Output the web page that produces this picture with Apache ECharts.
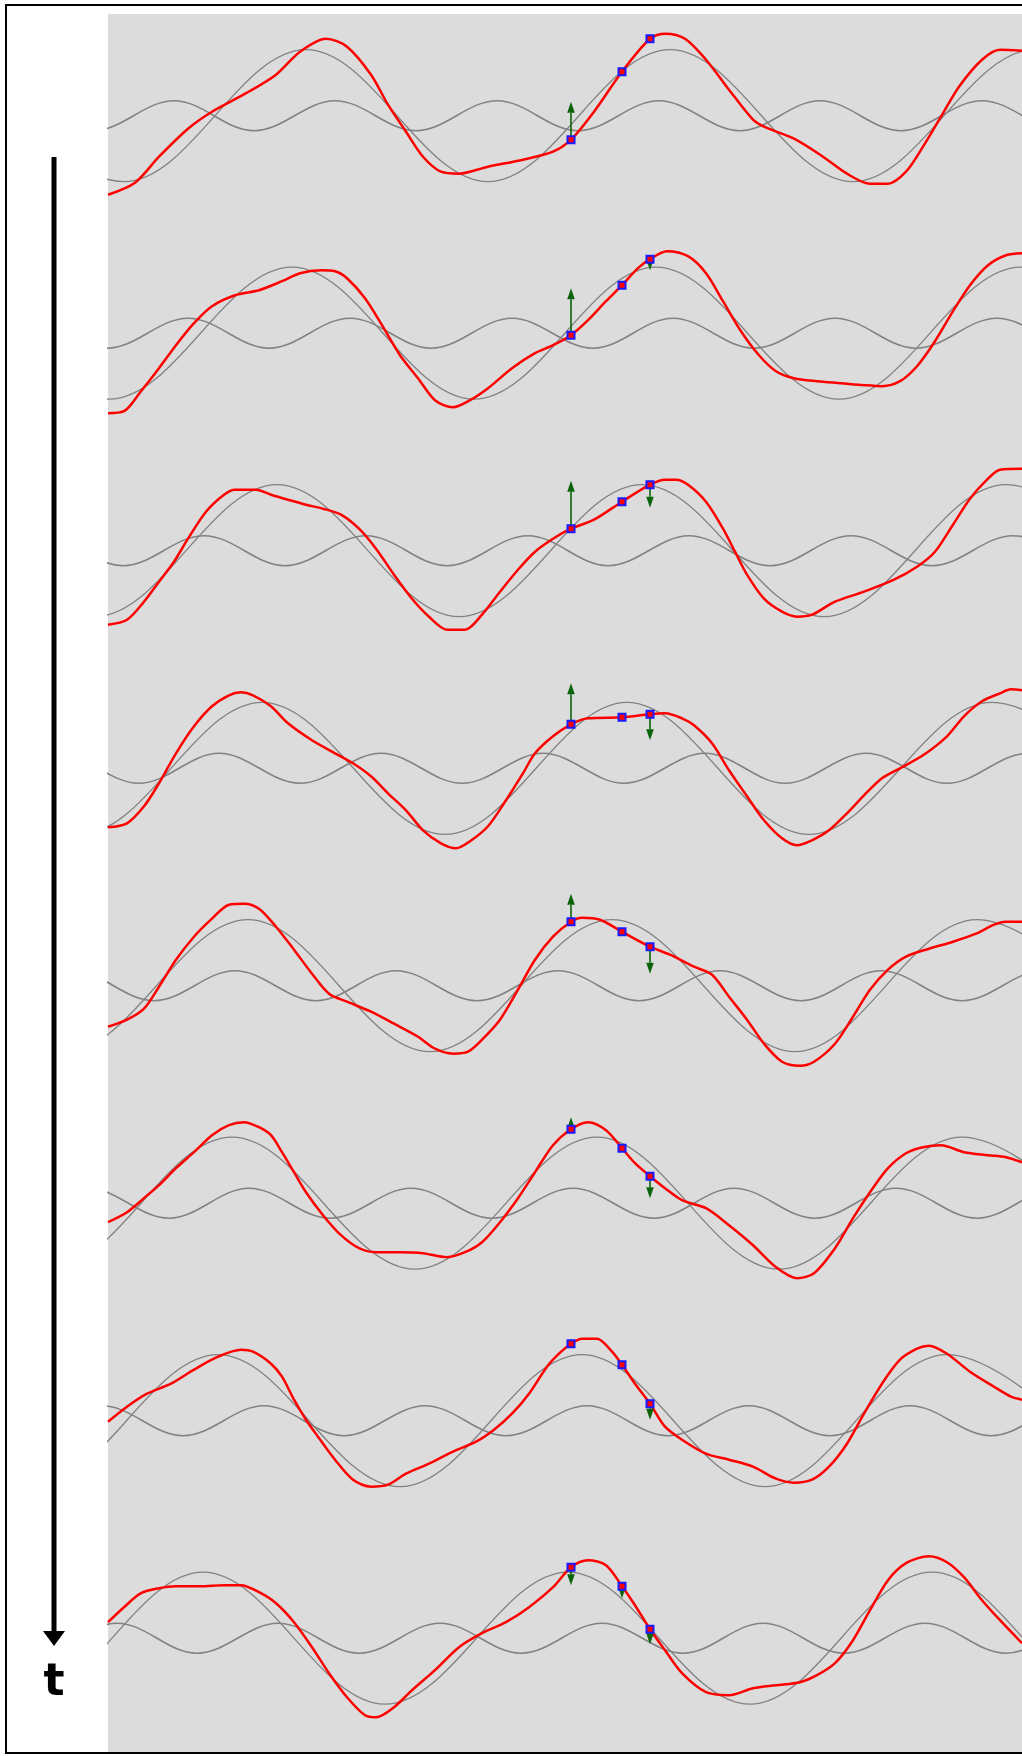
<!DOCTYPE html>
<html>
<head>
<meta charset="utf-8">
<title>Wave superposition</title>
<script src="https://cdn.jsdelivr.net/npm/echarts@6/dist/echarts.min.js"></script>
<style>
  html, body { margin: 0; padding: 0; background: #fff; }
  #chart { width: 1022px; height: 1756px; }
</style>
</head>
<body>
<div id="chart"></div>
<script>
// x: position along the medium (px from the left of the plot), y: displacement
// long gray wave, crests (+66) and troughs (-66) per frame
const bigWave1 = [[-167, 66], [16, -66], [198, 66], [380, -66], [562, 66], [745, -66], [927, 66], [1109, -66]];
const bigWave2 = [[-181, 66], [1, -66], [184, 66], [366, -66], [548, 66], [731, -66], [913, 66], [1095, -66]];
const bigWave3 = [[-196, 66], [-13, -66], [169, 66], [351, -66], [534, 66], [716, -66], [898, 66], [1081, -66]];
const bigWave4 = [[-210, 66], [-28, -66], [154, 66], [337, -66], [519, 66], [701, -66], [884, 66], [1066, -66]];
const bigWave5 = [[-225, 66], [-43, -66], [140, 66], [322, -66], [504, 66], [687, -66], [869, 66], [1051, -66]];
const bigWave6 = [[-240, 66], [-58, -66], [124, 66], [307, -66], [489, 66], [671, -66], [854, 66], [1036, -66]];
const bigWave7 = [[-255, 66], [-73, -66], [110, 66], [292, -66], [474, 66], [657, -66], [839, 66], [1021, -66]];
const bigWave8 = [[-270, 66], [-87, -66], [95, 66], [277, -66], [460, 66], [642, -66], [824, 66], [1006, -66], [1189, 66]];

// short gray wave, crests (+15) and troughs (-15) per frame
const smallWave1 = [[-177, -15], [-96, 15], [-15, -15], [66, 15], [146, -15], [227, 15], [308, -15], [389, 15], [470, -15], [551, 15], [632, -15], [712, 15], [793, -15], [874, 15], [955, -15], [1036, 15]];
const smallWave2 = [[-162, -15], [-82, 15], [-1, -15], [80, 15], [161, -15], [242, 15], [323, -15], [404, 15], [485, -15], [565, 15], [646, -15], [727, 15], [808, -15], [889, 15], [970, -15], [1050, 15]];
const smallWave3 = [[-147, -15], [-66, 15], [15, -15], [96, 15], [177, -15], [258, 15], [339, -15], [420, 15], [500, -15], [581, 15], [662, -15], [743, 15], [824, -15], [905, 15], [986, -15], [1066, 15]];
const smallWave4 = [[-131, -15], [-50, 15], [31, -15], [111, 15], [192, -15], [273, 15], [354, -15], [435, 15], [516, -15], [597, 15], [677, -15], [758, 15], [839, -15], [920, 15], [1001, -15], [1082, 15]];
const smallWave5 = [[-116, -15], [-35, 15], [46, -15], [127, 15], [208, -15], [288, 15], [369, -15], [450, 15], [531, -15], [612, 15], [693, -15], [773, 15], [854, -15], [935, 15], [1016, -15]];
const smallWave6 = [[-101, -15], [-20, 15], [61, -15], [141, 15], [222, -15], [303, 15], [384, -15], [465, 15], [546, -15], [626, 15], [707, -15], [788, 15], [869, -15], [950, 15], [1031, -15]];
const smallWave7 = [[-168, 15], [-87, -15], [-6, 15], [75, -15], [156, 15], [236, -15], [317, 15], [398, -15], [479, 15], [560, -15], [641, 15], [722, -15], [802, 15], [883, -15], [964, 15], [1045, -15]];
const smallWave8 = [[-153, 15], [-72, -15], [9, 15], [89, -15], [170, 15], [251, -15], [332, 15], [413, -15], [494, 15], [575, -15], [655, 15], [736, -15], [817, 15], [898, -15], [979, 15], [1060, -15]];

// red resulting wave
const red1 = [[0, -79], [27, -67], [51, -41], [80, -13], [104, 4], [139, 23], [168, 41], [192, 64], [218, 77], [239, 69], [263, 41], [280, 11], [298, -16], [315, -41], [333, -56], [351, -58], [380, -51], [415, -44], [445, -36], [463, -24], [486, 4], [514, 44], [542, 77], [557, 82], [577, 77], [598, 56], [621, 26], [645, -4], [656, -11], [686, -23], [715, -41], [739, -58], [762, -68], [780, -68], [798, -56], [815, -31], [833, -1], [851, 29], [874, 56], [892, 66], [914, 65]];
const red2 = [[0, -80], [16, -78], [33, -58], [51, -35], [68, -12], [86, 10], [104, 27], [127, 38], [151, 43], [174, 52], [192, 60], [213, 63], [227, 62], [239, 55], [257, 35], [274, 8], [292, -22], [310, -45], [327, -67], [345, -74], [362, -67], [380, -55], [404, -35], [427, -20], [445, -12], [463, -2], [480, 13], [498, 32], [514, 48], [530, 65], [542, 74], [559, 82], [580, 77], [598, 60], [615, 32], [633, 2], [651, -22], [668, -38], [686, -45], [709, -48], [733, -50], [756, -52], [774, -53], [792, -48], [809, -33], [827, -8], [845, 22], [862, 48], [880, 68], [898, 78], [914, 80]];
const red3 = [[0, -74], [19, -69], [36, -51], [51, -31], [66, -11], [80, 12], [98, 39], [116, 56], [127, 61], [148, 61], [163, 56], [180, 51], [198, 46], [215, 42], [233, 36], [251, 22], [268, 2], [286, -24], [304, -48], [321, -66], [339, -79], [357, -79], [374, -64], [392, -41], [410, -19], [427, -1], [445, 12], [463, 22], [486, 31], [514, 49], [542, 66], [557, 71], [568, 71], [580, 66], [598, 49], [615, 22], [627, -1], [639, -24], [656, -48], [674, -61], [689, -66], [704, -64], [727, -51], [756, -41], [786, -29], [809, -16], [827, -1], [845, 26], [862, 52], [880, 72], [892, 81], [914, 82]];
const red4 = [[0, -59], [19, -55], [36, -38], [51, -15], [68, 15], [86, 42], [104, 62], [121, 73], [133, 76], [145, 73], [163, 62], [180, 45], [204, 28], [227, 15], [245, 5], [263, -8], [280, -25], [298, -42], [315, -62], [333, -75], [348, -80], [362, -73], [380, -58], [398, -32], [415, -5], [427, 15], [445, 32], [463, 44], [480, 50], [514, 51], [542, 54], [557, 55], [574, 50], [586, 43], [604, 25], [621, -2], [639, -28], [656, -52], [674, -70], [689, -77], [704, -72], [721, -62], [739, -45], [756, -27], [774, -10], [792, 0], [815, 13], [839, 32], [856, 52], [874, 67], [892, 75], [903, 79], [914, 78]];
const red5 = [[0, -41], [19, -34], [36, -23], [51, -1], [68, 26], [86, 49], [104, 67], [121, 81], [136, 82], [151, 77], [168, 59], [186, 36], [204, 12], [221, -8], [239, -16], [263, -26], [286, -38], [310, -51], [327, -63], [345, -68], [360, -66], [374, -54], [392, -34], [410, -4], [427, 26], [445, 49], [463, 64], [474, 68], [492, 66], [514, 54], [542, 39], [562, 31], [586, 19], [604, 11], [621, -11], [639, -34], [656, -58], [674, -76], [692, -80], [706, -76], [727, -58], [745, -31], [762, -4], [780, 16], [798, 29], [821, 37], [845, 44], [868, 52], [886, 61], [898, 64], [914, 64]];
const red6 = [[0, -19], [19, -9], [36, 5], [51, 18], [68, 35], [86, 51], [104, 68], [121, 78], [136, 81], [151, 76], [163, 68], [174, 51], [186, 31], [198, 11], [215, -12], [233, -32], [251, -45], [268, -49], [292, -49], [315, -50], [339, -54], [357, -49], [374, -39], [392, -19], [410, 5], [427, 31], [445, 58], [463, 74], [480, 81], [498, 73], [514, 55], [527, 40], [542, 27], [557, 15], [574, 3], [598, -5], [621, -22], [645, -42], [668, -64], [689, -75], [706, -70], [727, -45], [745, -15], [762, 11], [780, 35], [798, 50], [815, 56], [833, 58], [856, 51], [880, 48], [898, 46], [914, 41]];
const red7 = [[0, -1], [19, 14], [39, 27], [63, 37], [86, 51], [110, 64], [133, 71], [145, 69], [163, 57], [174, 44], [186, 21], [198, 1], [210, -16], [227, -39], [245, -59], [263, -66], [280, -64], [298, -53], [321, -43], [345, -31], [368, -21], [386, -9], [404, 7], [421, 27], [439, 54], [451, 67], [463, 77], [474, 82], [489, 82], [504, 69], [514, 56], [527, 37], [542, 17], [557, -6], [574, -19], [598, -33], [621, -39], [645, -46], [668, -58], [686, -62], [704, -59], [721, -46], [739, -23], [756, 7], [774, 37], [792, 61], [809, 72], [821, 75], [839, 67], [862, 49], [886, 34], [903, 24], [914, 21]];
const red8 = [[0, 16], [16, 31], [33, 45], [51, 50], [68, 52], [92, 52], [116, 53], [133, 53], [151, 46], [168, 35], [186, 16], [204, -9], [221, -35], [239, -59], [257, -77], [268, -79], [286, -69], [304, -52], [327, -32], [351, -9], [374, 5], [398, 16], [421, 31], [445, 51], [463, 71], [480, 78], [498, 73], [514, 52], [527, 33], [542, 9], [557, -12], [574, -35], [598, -54], [621, -57], [645, -50], [668, -47], [692, -44], [709, -37], [727, -25], [745, -2], [762, 28], [780, 58], [798, 75], [821, 82], [839, 76], [856, 61], [874, 38], [892, 18], [914, -5]];

// tracked particles (blue squares)
const markers1 = [[463, -24], [514, 44], [542, 77]];
const markers2 = [[463, -2], [514, 48], [542, 74]];
const markers3 = [[463, 22], [514, 49], [542, 66]];
const markers4 = [[463, 44], [514, 51], [542, 54]];
const markers5 = [[463, 64], [514, 54], [542, 39]];
const markers6 = [[463, 74], [514, 55], [542, 27]];
const markers7 = [[463, 77], [514, 56], [542, 17]];
const markers8 = [[463, 71], [514, 52], [542, 9]];

// velocity arrows: [x, from, to]
const arrows1 = [[463, -24, 14]];
const arrows2 = [[463, -2, 45], [542, 74, 63]];
const arrows3 = [[463, 22, 70], [542, 66, 43]];
const arrows4 = [[463, 44, 85], [542, 54, 28]];
const arrows5 = [[463, 64, 92], [542, 39, 12]];
const arrows6 = [[463, 74, 86], [542, 27, 5]];
const arrows7 = [[542, 17, 1]];
const arrows8 = [[463, 71, 53], [514, 52, 40], [542, 9, -6]];

const bigWaves = [bigWave1, bigWave2, bigWave3, bigWave4, bigWave5, bigWave6, bigWave7, bigWave8];
const smallWaves = [smallWave1, smallWave2, smallWave3, smallWave4, smallWave5, smallWave6, smallWave7, smallWave8];
const redWaves = [red1, red2, red3, red4, red5, red6, red7, red8];
const markerRows = [markers1, markers2, markers3, markers4, markers5, markers6, markers7, markers8];
const arrowRows = [arrows1, arrows2, arrows3, arrows4, arrows5, arrows6, arrows7, arrows8];

// layout: vertical centre of each frame (px)
const rowCenters = [115.7, 333.2, 550.7, 768.3, 985.7, 1203.2, 1420.7, 1638.2];

const chart = echarts.init(document.getElementById("chart"));

const renderArrow = (params, api) => {
  const p0 = api.coord([api.value(0), api.value(1)]);
  const p1 = api.coord([api.value(0), api.value(2)]);
  const dir = p1[1] < p0[1] ? -1 : 1;
  const headLen = 11;
  const half = 3.8;
  const base = p1[1] - dir * headLen;
  return {
    type: "group",
    children: [
      {
        type: "line",
        shape: { x1: p0[0], y1: p0[1], x2: p1[0], y2: base },
        style: { stroke: "#0a640a", lineWidth: 1.6 },
      },
      {
        type: "polygon",
        shape: { points: [[p1[0], p1[1]], [p1[0] - half, base], [p1[0] + half, base]] },
        style: { fill: "#0a640a" },
      },
    ],
  };
};

const grid = [];
const xAxis = [];
const yAxis = [];
const series = [];

rowCenters.forEach((c, i) => {
  grid.push({ left: 108, top: c - 100, width: 914, height: 200 });
  xAxis.push({ gridIndex: i, type: "value", min: 0, max: 914, show: false });
  yAxis.push({ gridIndex: i, type: "value", min: -100, max: 100, show: false });

  series.push({
    type: "line",
    xAxisIndex: i,
    yAxisIndex: i,
    data: bigWaves[i],
    smooth: 0.36,
    symbol: "none",
    lineStyle: { color: "#828282", width: 1.3 },
    z: 2,
  });
  series.push({
    type: "line",
    xAxisIndex: i,
    yAxisIndex: i,
    data: smallWaves[i],
    smooth: 0.36,
    symbol: "none",
    lineStyle: { color: "#828282", width: 1.6 },
    z: 2,
  });
  series.push({
    type: "line",
    xAxisIndex: i,
    yAxisIndex: i,
    data: redWaves[i],
    smooth: 0.3,
    symbol: "none",
    lineStyle: { color: "#ff0000", width: 2.5 },
    z: 3,
  });
  series.push({
    type: "custom",
    xAxisIndex: i,
    yAxisIndex: i,
    data: arrowRows[i],
    renderItem: renderArrow,
    z: 4,
  });
  series.push({
    type: "scatter",
    xAxisIndex: i,
    yAxisIndex: i,
    data: markerRows[i],
    symbol: "rect",
    symbolSize: 7,
    itemStyle: { color: "#ff0000", borderColor: "#1a1aff", borderWidth: 2, opacity: 1 },
    z: 5,
  });
});

const option = {
  animation: false,
  backgroundColor: "#ffffff",
  grid,
  xAxis,
  yAxis,
  series,
  graphic: [
    // plot background
    { type: "rect", z: -10, shape: { x: 108, y: 14, width: 914, height: 1738 }, style: { fill: "#dcdcdc" } },
    // time arrow
    { type: "line", shape: { x1: 54, y1: 157, x2: 54, y2: 1634 }, style: { stroke: "#000", lineWidth: 5 } },
    { type: "polygon", shape: { points: [[43, 1631], [65, 1631], [54, 1646]] }, style: { fill: "#000" } },
    {
      type: "text",
      style: {
        text: "t",
        x: 54,
        y: 1684,
        font: 'bold 44px "DejaVu Sans"',
        fill: "#000",
        align: "center",
        textAlign: "center",
        verticalAlign: "middle",
        textVerticalAlign: "middle",
      },
    },
    // frame
    { type: "rect", z: 10, shape: { x: 6, y: 5, width: 1030, height: 1748 }, style: { fill: "none", stroke: "#000", lineWidth: 2 } },
  ],
};

chart.setOption(option);
</script>
</body>
</html>
